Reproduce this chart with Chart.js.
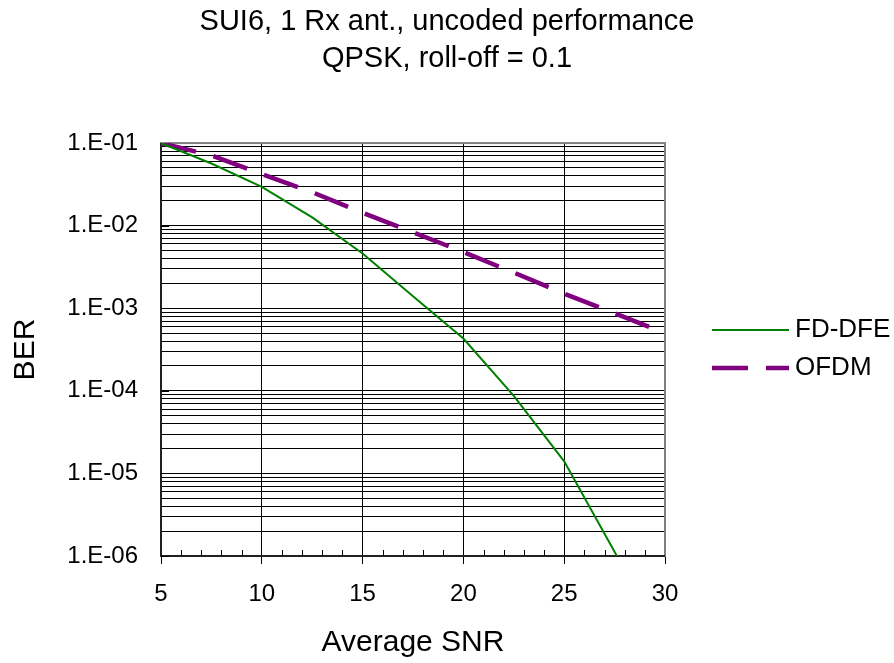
<!DOCTYPE html>
<html>
<head>
<meta charset="utf-8">
<script src="https://cdn.jsdelivr.net/npm/chart.js@4/dist/chart.umd.min.js"></script>
<style>
  html, body { margin: 0; padding: 0; background: #ffffff; }
  #wrap { width: 894px; height: 663px; }
</style>
</head>
<body>
<div id="wrap"><canvas id="c" width="894" height="663"></canvas></div>
<script>
// ---- data ----
const titleLines = ['SUI6, 1 Rx ant., uncoded performance', 'QPSK, roll-off = 0.1'];
const xTitle = 'Average SNR';
const yTitle = 'BER';
const seriesNames = ['FD-DFE', 'OFDM'];

const fdDfeSnr = [5, 7.5, 10, 12.5, 15, 17.5, 20, 22.5, 25, 30];
const fdDfeBer = [0.1, 0.0566, 0.0295, 0.0126, 0.0046, 0.0014, 4.3e-4, 8.7e-5, 1.4e-5, 9e-8];

const ofdmSnr = [5, 7.5, 10, 12.5, 15, 17.5, 20, 22.5, 25, 27.5, 30];
const ofdmBer = [0.1, 0.071, 0.042, 0.0254, 0.0143, 0.0083, 0.0048, 0.0027, 0.0015, 8.7e-4, 5e-4];

const xTickValues = [5, 10, 15, 20, 25, 30];
const xMinorValues = [6, 7, 8, 9, 11, 12, 13, 14, 16, 17, 18, 19, 21, 22, 23, 24, 26, 27, 28, 29];
const yMajorValues = [1e-6, 1e-5, 1e-4, 1e-3, 1e-2, 1e-1];
const yTickLabels = ['1.E-06', '1.E-05', '1.E-04', '1.E-03', '1.E-02', '1.E-01'];
const yMinorMantissas = [2, 3, 4, 5, 6, 7, 8, 9];

// ---- styles ----
const FONT = "'Liberation Sans', Arial, sans-serif";
const GREEN = '#008000';
const PURPLE = '#800080';

function pts(xs, ys) { return xs.map((x, i) => ({ x: x, y: ys[i] })); }

function yTickObjects() {
  const out = [];
  yMajorValues.forEach((v, i) => {
    out.push({ value: v, major: true });
    if (i < yMajorValues.length - 1) {
      yMinorMantissas.forEach(m => out.push({ value: m * v, major: false }));
    }
  });
  return out;
}

const framePlugin = {
  id: 'frame',
  beforeDatasetsDraw(chart) {
    const { ctx, chartArea: a, scales } = chart;
    ctx.save();
    // plot border (gray)
    ctx.strokeStyle = '#808080';
    ctx.lineWidth = 2;
    ctx.strokeRect(a.left, a.top, a.right - a.left, a.bottom - a.top);
    // axes (black)
    ctx.strokeStyle = '#000000';
    ctx.lineWidth = 1.5;
    ctx.beginPath();
    ctx.moveTo(a.left, a.top);
    ctx.lineTo(a.left, a.bottom);
    ctx.lineTo(a.right, a.bottom);
    ctx.stroke();
    // minor x ticks pointing inward
    ctx.lineWidth = 1;
    ctx.beginPath();
    xMinorValues.forEach(v => {
      const px = Math.round(scales.x.getPixelForValue(v)) + 0.5;
      ctx.moveTo(px, a.bottom);
      ctx.lineTo(px, a.bottom - 6);
    });
    // major y ticks pointing inward
    yMajorValues.forEach(v => {
      const py = Math.round(scales.y.getPixelForValue(v)) + 0.5;
      ctx.moveTo(a.left, py);
      ctx.lineTo(a.left + 8, py);
    });
    ctx.stroke();
    ctx.restore();
  },
  afterDraw(chart) {
    // legend on the right
    const { ctx } = chart;
    const items = chart.data.datasets;
    const x0 = 712, x1 = 789, tx = 795;
    const ys = [330, 368];
    ctx.save();
    items.forEach((ds, i) => {
      ctx.beginPath();
      ctx.strokeStyle = ds.borderColor;
      ctx.lineWidth = ds.borderWidth;
      ctx.setLineDash(ds.borderDash || []);
      ctx.lineCap = 'butt';
      ctx.moveTo(x0, ys[i]);
      ctx.lineTo(x1, ys[i]);
      ctx.stroke();
      ctx.setLineDash([]);
      ctx.fillStyle = '#000000';
      ctx.font = '26px ' + FONT;
      ctx.textAlign = 'left';
      ctx.textBaseline = 'middle';
      ctx.fillText(ds.label, tx, ys[i]);
    });
    ctx.restore();
  }
};

new Chart(document.getElementById('c'), {
  type: 'line',
  data: {
    datasets: [
      {
        label: seriesNames[0],
        data: pts(fdDfeSnr, fdDfeBer),
        borderColor: GREEN,
        backgroundColor: GREEN,
        borderWidth: 2,
        pointRadius: 0,
        tension: 0,
        fill: false
      },
      {
        label: seriesNames[1],
        data: pts(ofdmSnr, ofdmBer),
        borderColor: PURPLE,
        backgroundColor: PURPLE,
        borderWidth: 4.5,
        borderDash: [36, 18],
        borderCapStyle: 'butt',
        pointRadius: 0,
        tension: 0,
        fill: false
      }
    ]
  },
  options: {
    responsive: false,
    animation: false,
    devicePixelRatio: 1,
    layout: { padding: 0 },
    plugins: {
      legend: { display: false },
      tooltip: { enabled: false },
      title: {
        display: true,
        text: titleLines,
        color: '#000000',
        font: { family: FONT, size: 29, weight: 'normal', lineHeight: 1.26 },
        padding: { top: 4, bottom: 66 }
      }
    },
    scales: {
      x: {
        type: 'linear',
        position: 'bottom',
        min: 5,
        max: 30,
        afterBuildTicks: s => { s.ticks = xTickValues.map(v => ({ value: v })); },
        afterFit: s => { s.height = 107; },
        ticks: {
          color: '#000000',
          font: { family: FONT, size: 24 },
          padding: 16,
          maxRotation: 0,
          autoSkip: false
        },
        grid: { color: '#000000', lineWidth: 1, drawTicks: true, tickLength: 8, tickColor: '#000000' },
        border: { display: false },
        title: {
          display: true,
          text: xTitle,
          color: '#000000',
          font: { family: FONT, size: 30, lineHeight: 1.2 },
          padding: { top: 0, bottom: 2 }
        }
      },
      y: {
        type: 'logarithmic',
        position: 'left',
        min: 1e-6,
        max: 1e-1,
        afterBuildTicks: s => { s.ticks = yTickObjects(); },
        afterFit: s => { s.width = 161; },
        ticks: {
          color: '#000000',
          font: { family: FONT, size: 24 },
          padding: 23,
          autoSkip: false,
          callback: function (value) {
            const idx = yMajorValues.findIndex(v => Math.abs(v - value) / v < 1e-9);
            return idx >= 0 ? yTickLabels[idx] : '';
          }
        },
        grid: { color: '#000000', lineWidth: 1, drawTicks: false },
        border: { display: false },
        title: {
          display: true,
          text: yTitle,
          color: '#000000',
          font: { family: FONT, size: 30, lineHeight: 1.2 },
          padding: { top: 8, bottom: 0 }
        }
      },
      spacer: {
        type: 'linear',
        position: 'right',
        display: true,
        afterFit: s => { s.width = 229; },
        ticks: { display: false },
        grid: { display: false, drawTicks: false },
        border: { display: false },
        title: { display: false }
      }
    }
  },
  plugins: [framePlugin]
});
</script>
</body>
</html>
